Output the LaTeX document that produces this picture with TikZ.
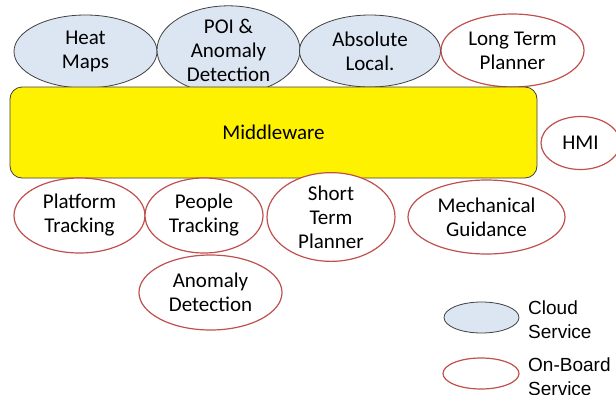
\documentclass[tikz,border=0pt]{standalone}
\usepackage{fontspec}
\setmainfont{Carlito}
\newfontfamily\legendfont{Liberation Sans}
\usetikzlibrary{shapes.geometric}
\definecolor{cloudfill}{HTML}{DCE6F2}
\definecolor{cloudline}{HTML}{404040}
\definecolor{boardline}{HTML}{C0504D}
\tikzset{
  svc/.style={ellipse, inner sep=0pt, align=center, font=\fontsize{21}{24}\selectfont, line width=1.2pt},
  cloudsvc/.style={svc, draw=cloudline, fill=cloudfill, line width=0.8pt},
  boardsvc/.style={svc, draw=boardline, fill=white},
  legtext/.style={anchor=west, align=left, inner sep=0pt, font=\legendfont\fontsize{19}{24}\selectfont}
}
\begin{document}
\begin{tikzpicture}[x=1pt,y=-1pt]
\useasboundingbox (0,0) rectangle (616,394);
% cloud services
\node[cloudsvc, minimum width=143pt, minimum height=73pt] (heat) at (85.5,51.5) {Heat\\Maps};
\node[cloudsvc, minimum width=143pt, minimum height=74pt] (poi) at (228.5,50) {POI \&\\Anomaly\\Detection};
\node[cloudsvc, minimum width=141pt, minimum height=72pt] (abs) at (370,51) {Absolute\\Local.};
\node[boardsvc, minimum width=143pt, minimum height=73pt] (ltp) at (512.5,50.5) {Long Term\\Planner};
% middleware
\node[draw=cloudline, fill=yellow, rounded corners=12pt, line width=0.8pt, minimum width=527pt, minimum height=91pt, inner sep=0pt, font=\fontsize{21}{24}\selectfont] (mw) at (273.5,132.5) {Middleware};
\node[boardsvc, minimum width=79pt, minimum height=53pt] (hmi) at (580.5,143) {HMI};
% on-board services
\node[boardsvc, minimum width=131pt, minimum height=75pt] (plat) at (79.5,215.5) {Platform\\Tracking};
\node[boardsvc, minimum width=118pt, minimum height=75pt] (people) at (204,215.5) {People\\Tracking};
\node[boardsvc, minimum width=128pt, minimum height=74pt] (stp) at (331,217) {Short\\Term\\Planner};
\node[boardsvc, minimum width=157pt, minimum height=74pt] (mech) at (486.5,217) {Mechanical\\Guidance};
\node[boardsvc, minimum width=143pt, minimum height=75pt] (anom) at (210.5,292.5) {Anomaly\\Detection};
% legend
\node[cloudsvc, minimum width=75pt, minimum height=31pt] (lcloud) at (481.5,317.5) {};
\node[boardsvc, minimum width=76pt, minimum height=31pt] (lboard) at (481,373.5) {};
\node[legtext] (tcloud) at (528,320) {Cloud\\Service};
\node[legtext] (tboard) at (528,377) {On-Board\\Service};
\end{tikzpicture}
\end{document}
